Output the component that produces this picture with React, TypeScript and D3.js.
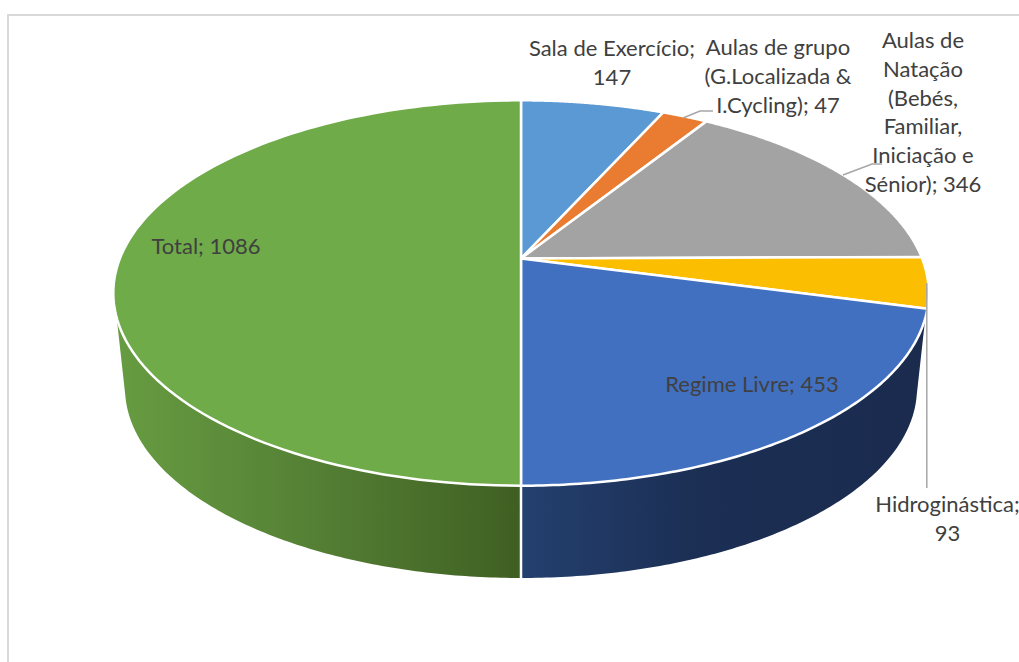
import React from "react";
import * as d3 from "d3";

// Membership counts per activity
const categories = [
  "Sala de Exercício",
  "Aulas de grupo (G.Localizada & I.Cycling)",
  "Aulas de Natação (Bebés, Familiar, Iniciação e Sénior)",
  "Hidroginástica",
  "Regime Livre",
  "Total",
];
const values = [147, 47, 346, 93, 453, 1086];
const sliceColors = ["#5a99d4", "#ea7c31", "#a3a3a3", "#fcbe00", "#4270c0", "#6fab48"];
const labelLines = [
  ["Sala de Exercício;", "147"],
  ["Aulas de grupo", "(G.Localizada &", "I.Cycling); 47"],
  ["Aulas de", "Natação", "(Bebés,", "Familiar,", "Iniciação e", "Sénior); 346"],
  ["Hidroginástica;", "93"],
  ["Regime Livre; 453"],
  ["Total; 1086"],
];

const WIDTH = 1019;
const HEIGHT = 662;
const FONT = "Lato, 'Noto Sans', sans-serif";
const LINE_HEIGHT = 28.8;

// Upper face: ellipse outline plus the point where the slices meet
const top = { cx: 521, cy: 293, rx: 407.7, ry: 192.7, apexY: 258.5 };
// Lower rim of the cylinder wall
const rim = { cx: 521, cy: 388, rx: 396, ry: 190 };

// Perspective mapping of the unit disc onto the upper face
const c = top.apexY - top.cy;
const k = c / top.ry;
const b = top.ry * (1 + k) - c;
const a = top.rx * Math.sqrt(1 - (c * c) / (top.ry * top.ry));

function projectTop(theta: number, radius = 1): [number, number] {
  const u = radius * Math.sin(theta);
  const v = -radius * Math.cos(theta);
  const w = 1 + k * v;
  return [top.cx + (a * u) / w, top.cy + (b * v + c) / w];
}

const deg = (d: number) => (d * Math.PI) / 180;

// Part of the turn whose wall faces the viewer, and where it lands on the lower rim
const wallStart = deg(107.5);
const wallEnd = deg(252.5);
const rimAngle = d3
  .scaleLinear()
  .domain([wallStart, Math.PI, wallEnd])
  .range([deg(92), Math.PI, deg(268)]);

function projectRim(theta: number): [number, number] {
  const p = rimAngle(theta);
  return [rim.cx + rim.rx * Math.sin(p), rim.cy - rim.ry * Math.cos(p)];
}

const arcSamples = (from: number, to: number) =>
  d3.range(0, 121).map((i) => from + ((to - from) * i) / 120);

const toPath = d3.line<[number, number]>();

const pieLayout = d3
  .pie<number>()
  .sort(null)
  .startAngle(0)
  .endAngle(2 * Math.PI);

// Label placement: centre x and first baseline of each block
const labelPlacement = [
  { x: 612, y: 56 },
  { x: 778, y: 55 },
  { x: 923, y: 48 },
  { x: 947.5, y: 512 },
  { x: 752, y: 392 },
  { x: 206, y: 254 },
];

// Leader lines joining outside labels to their slices
const leaders: [number, number][][] = [
  [[683, 118], [700, 111], [713, 111]],
  [[843, 175], [872, 164], [882, 164]],
  [[926.8, 283], [926.8, 488]],
];

export default function App() {
  const slices = pieLayout(values);
  return (
    <svg
      width={WIDTH}
      height={HEIGHT}
      viewBox={`0 0 ${WIDTH} ${HEIGHT}`}
      style={{ position: "absolute", left: 0, top: 0, display: "block", background: "#fff" }}
    >
      <defs>
        <linearGradient id="wall-4" gradientUnits="userSpaceOnUse" x1={521} x2={926} y1={0} y2={0}>
          <stop offset="0" stopColor="#24406f" />
          <stop offset="0.45" stopColor="#1b2e53" />
          <stop offset="1" stopColor="#1a2b4e" />
        </linearGradient>
        <linearGradient id="wall-5" gradientUnits="userSpaceOnUse" x1={115} x2={521} y1={0} y2={0}>
          <stop offset="0" stopColor="#679c41" />
          <stop offset="0.45" stopColor="#568236" />
          <stop offset="1" stopColor="#3f5f22" />
        </linearGradient>
      </defs>

      {/* Chart frame */}
      <path d="M8 662V15H1019" fill="none" stroke="#d9d9d9" strokeWidth={2} />

      {/* Cylinder wall */}
      {slices.map((s, i) => {
        const from = Math.max(s.startAngle, wallStart);
        const to = Math.min(s.endAngle, wallEnd);
        if (from >= to) return null;
        const upper = arcSamples(from, to).map((t) => projectTop(t));
        const lower = arcSamples(to, from).map((t) => projectRim(t));
        return (
          <path key={categories[i]} d={toPath([...upper, ...lower]) + "Z"} fill={`url(#wall-${i})`} />
        );
      })}
      <line
        x1={projectTop(Math.PI)[0]}
        x2={projectRim(Math.PI)[0]}
        y1={projectTop(Math.PI)[1]}
        y2={projectRim(Math.PI)[1]}
        stroke="#fff"
        strokeWidth={2.5}
      />

      {/* Upper face */}
      {slices.map((s, i) => {
        const edge = arcSamples(s.startAngle, s.endAngle).map((t) => projectTop(t));
        return (
          <path
            key={categories[i]}
            d={toPath([projectTop(0, 0), ...edge]) + "Z"}
            fill={sliceColors[i]}
            stroke="#fff"
            strokeWidth={2.5}
            strokeLinejoin="round"
          />
        );
      })}

      {/* Leaders */}
      {leaders.map((pts, i) => (
        <path key={i} d={toPath(pts)!} fill="none" stroke="#a6a6a6" strokeWidth={1.5} />
      ))}

      {/* Data labels */}
      {labelLines.map((lines, i) => (
        <text
          key={categories[i]}
          textAnchor="middle"
          fontFamily={FONT}
          fontSize={22}
          fill="#404040"
        >
          {lines.map((line, j) => (
            <tspan key={j} x={labelPlacement[i].x} y={labelPlacement[i].y + j * LINE_HEIGHT}>
              {line}
            </tspan>
          ))}
        </text>
      ))}
    </svg>
  );
}
